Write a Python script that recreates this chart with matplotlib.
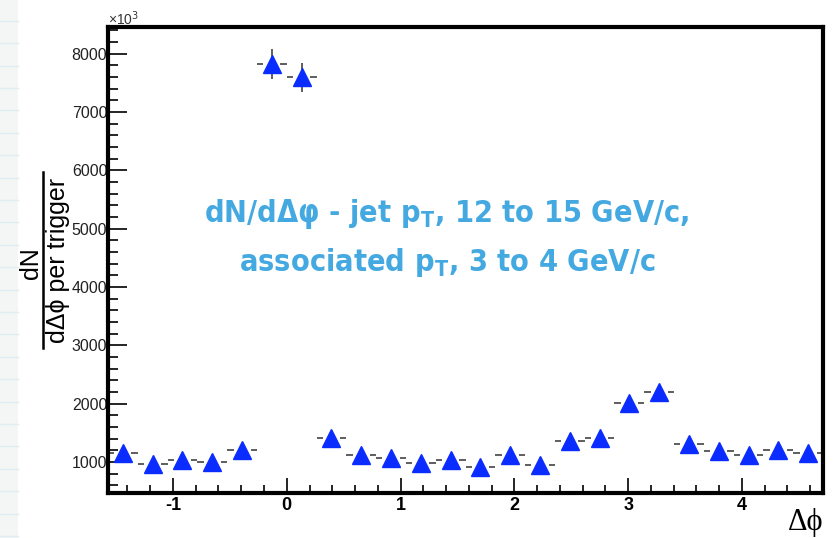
import numpy as np
import matplotlib.pyplot as plt
from matplotlib.lines import Line2D
from matplotlib.patches import Rectangle
from matplotlib.ticker import MultipleLocator

plt.rcParams['axes.unicode_minus'] = False

# dN/dDeltaphi per trigger, 24 bins from -pi/2 to 3pi/2
counts = [1160, 960, 1030, 995, 1200, 7830, 7600, 1410, 1120, 1075, 990, 1035,
          920, 1115, 955, 1370, 1410, 2015, 2200, 1305, 1190, 1115, 1200, 1150]
errors = [95, 90, 92, 91, 98, 257, 250, 105, 94, 93, 90, 92,
          88, 94, 89, 104, 105, 125, 130, 101, 97, 94, 98, 96]
yticks = [1000, 2000, 3000, 4000, 5000, 6000, 7000, 8000]
xticks = [-1, 0, 1, 2, 3, 4]

edges = np.linspace(-np.pi / 2, 3 * np.pi / 2, len(counts) + 1)
centers = 0.5 * (edges[:-1] + edges[1:])
half = 0.5 * (edges[1] - edges[0])

fig = plt.figure(figsize=(8.34, 5.38), dpi=100)

# notebook-paper strip on the left edge
fig.patches.append(Rectangle((0, 0), 18 / 834, 1, transform=fig.transFigure,
                             facecolor='#f4f5f5', edgecolor='none', zorder=-10))
for yp in np.arange(200 - 22.4 * 9, 538, 22.4):
    fig.add_artist(Line2D([0, 18 / 834], [1 - yp / 538] * 2, transform=fig.transFigure,
                          color='#e0eef4', lw=1.0, zorder=-9))

ax = fig.add_axes([108 / 834, 1 - 493 / 538, 715 / 834, 466 / 538])

# error bars: vertical through the marker, horizontal with a gap around it
gap = 0.075
ax.vlines(centers, np.array(counts) - np.array(errors), np.array(counts) + np.array(errors),
          color='#333333', lw=1.1, zorder=2)
ax.hlines(counts, centers - half, centers - gap, color='#333333', lw=1.1, zorder=2)
ax.hlines(counts, centers + gap, centers + half, color='#333333', lw=1.1, zorder=2)
ax.plot(centers, counts, ls='none', marker='^', ms=12.5, color='#0a2cff',
        markeredgecolor='#0a2cff', zorder=3)

ax.set_xlim(-np.pi / 2, 3 * np.pi / 2)
ax.set_ylim(470, 8460)

for s in ax.spines.values():
    s.set_linewidth(3)
ax.set_yticks(yticks)
ax.set_xticks(xticks)
ax.xaxis.set_minor_locator(MultipleLocator(0.2))
ax.yaxis.set_minor_locator(MultipleLocator(200))
ax.tick_params(axis='y', which='major', direction='in', length=14, width=1.2,
               right=False, pad=0.5, labelsize=11.5, labelcolor='#222222')
ax.tick_params(axis='y', which='minor', direction='in', length=7, width=1.2, right=False)
ax.tick_params(axis='x', which='major', direction='in', length=11, width=1.2,
               top=False, pad=3, labelsize=13)
ax.tick_params(axis='x', which='minor', direction='in', length=6, width=1.2, top=False)
for lab in ax.get_xticklabels():
    lab.set_fontweight('bold')
for lab in ax.get_yticklabels() + ax.get_xticklabels():
    lab.set_family(['Liberation Sans', 'DejaVu Sans'])

fig.text(108 / 834, 1 - 25 / 538, '\u00d710$^{3}$', fontsize=10, color='#333333',
         family=['Liberation Sans', 'DejaVu Sans'], ha='left', va='baseline')

# y axis title drawn as a fraction
fig.text(31 / 834, 1 - 263 / 538, 'dN', rotation=90, fontsize=18, ha='center', va='center',
         family=['Liberation Sans', 'DejaVu Sans'])
fig.add_artist(Line2D([43 / 834] * 2, [1 - 348 / 538, 1 - 172 / 538],
                      transform=fig.transFigure, color='black', lw=1.8))
fig.text(58 / 834, 1 - 260 / 538, 'd\u0394\u03d5 per trigger', rotation=90, fontsize=18,
         ha='center', va='center', family=['Liberation Sans', 'DejaVu Sans'])

fig.text(823 / 834, 1 - 530 / 538, '\u0394\u03d5', fontsize=22, ha='right', va='baseline',
         family=['Liberation Serif', 'DejaVu Serif'])

ax.text(0.474, 0.548, 'dN/d\u0394\u03c6 - jet p$_\\mathregular{T}$, 12 to 15 GeV/c,\n'
        'associated p$_\\mathregular{T}$, 3 to 4 GeV/c',
        transform=ax.transAxes, ha='center', va='center', fontsize=22, fontweight='bold',
        fontstretch='condensed', color='#45a9e1', linespacing=1.6,
        family=['DejaVu Sans', 'Noto Sans'])

fig.savefig('out.png', dpi=100)
